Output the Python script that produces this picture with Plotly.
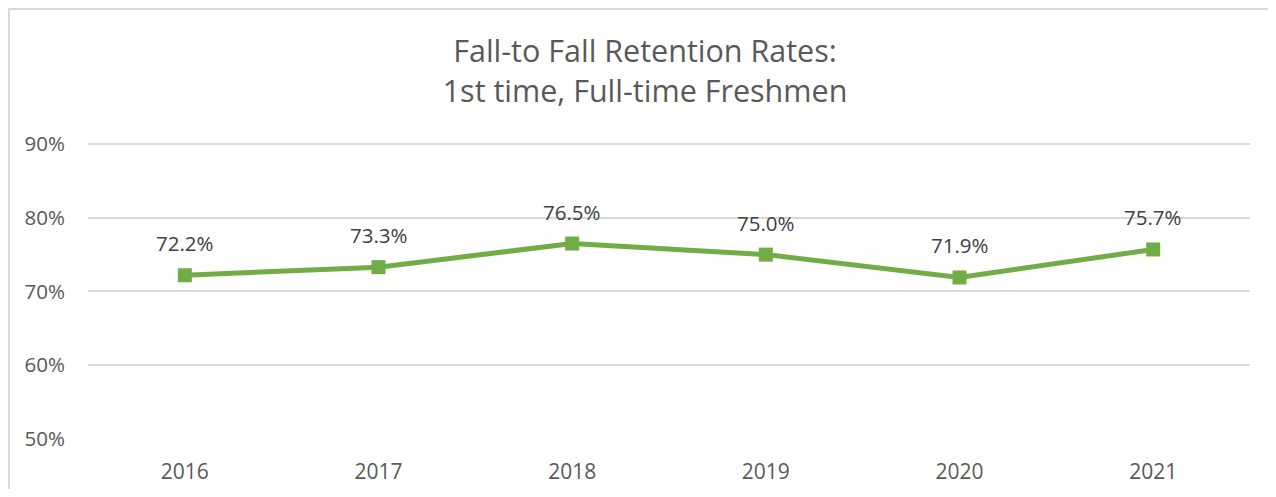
import plotly.graph_objects as go

years = [2016, 2017, 2018, 2019, 2020, 2021]
rates = [72.2, 73.3, 76.5, 75.0, 71.9, 75.7]
labels = ["72.2%", "73.3%", "76.5%", "75.0%", "71.9%", "75.7%"]
y_ticks = [50, 60, 70, 80, 90]
y_tick_text = ["50%", "60%", "70%", "80%", "90%"]

GREEN = "#70AD47"
GRAY = "#595959"
GRID = "#D9D9D9"
FONT = "Open Sans"

fig = go.Figure()
fig.add_trace(go.Scatter(
    x=years, y=rates, mode="lines+markers",
    line=dict(color=GREEN, width=5),
    marker=dict(symbol="square", size=14, color=GREEN),
    hoverinfo="skip", showlegend=False,
))

for x, y, t in zip(years, rates, labels):
    fig.add_annotation(x=x, y=y, text=t, showarrow=False, yshift=32,
                       font=dict(family=FONT, size=20.5, color="#404040"))

# figure is drawn inside the page's 8px body margin
W, H = 1268, 481
L, R, T, B = 80, 26, 132, 50
pw, ph = W - L - R, H - T - B


def px(xp):
    return (xp - L) / pw


def py(yp):
    return (H - B - yp) / ph


# Outer chart border (cropped on right/bottom)
fig.add_shape(type="rect", xref="paper", yref="paper",
              x0=px(1), x1=px(W + 20), y0=py(H + 20), y1=py(1),
              line=dict(color=GRID, width=2), fillcolor="rgba(0,0,0,0)", layer="below")

fig.update_layout(
    width=W, height=H,
    margin=dict(l=L, r=R, t=T, b=B, autoexpand=False),
    paper_bgcolor="white", plot_bgcolor="white",
    title=dict(text="Fall-to Fall Retention Rates:<br>1st time, Full-time Freshmen",
               x=637 / W, xanchor="center", y=1 - 54 / H, yanchor="middle",
               automargin=False,
               font=dict(family=FONT, size=30.5, color=GRAY)),
    xaxis=dict(range=[2015.5, 2021.5], tickvals=years, ticktext=[str(y) for y in years],
               showgrid=False, showline=False, zeroline=False, automargin=False,
               tickfont=dict(family=FONT, size=21, color=GRAY),
               ticks="", ticklabelstandoff=18),
    yaxis=dict(range=[50, 90.54], tickvals=y_ticks, ticktext=y_tick_text,
               showgrid=True, gridcolor=GRID, gridwidth=1.5, zeroline=False,
               showline=False, ticks="", automargin=False,
               tickfont=dict(family=FONT, size=20.5, color=GRAY),
               ticklabelstandoff=22),
    font=dict(family=FONT),
)

fig.write_html("out.html")
